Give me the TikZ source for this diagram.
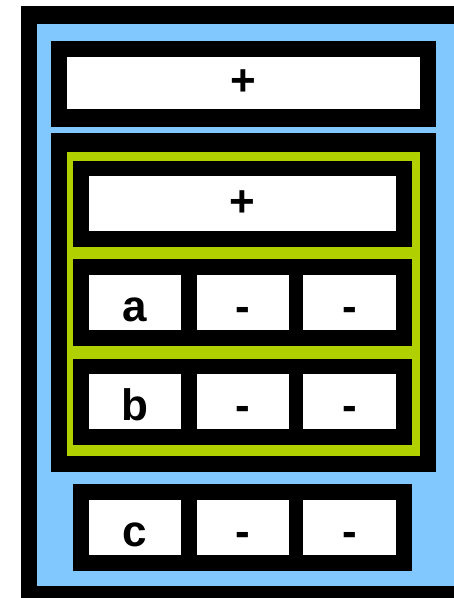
\documentclass[tikz,border=0pt]{standalone}
\usepackage{fontspec}
\setmainfont{Liberation Sans}
\definecolor{panelblue}{RGB}{128,200,255}
\definecolor{framegreen}{RGB}{176,208,0}

\begin{document}
\begin{tikzpicture}[x=1pt,y=-1pt,
    cell/.style={fill=white,inner sep=0pt,minimum height=55pt,minimum width=92pt,
      font=\fontsize{44}{48}\selectfont\bfseries},
    letter/.style={cell,text height=37pt,text depth=0pt}]
  \useasboundingbox (0,0) rectangle (454,598);
  \clip (0,0) rectangle (454,598);
  % outer frame, cut off at right and bottom
  \fill[black] (21,6) rectangle (480,620);
  \fill[panelblue] (37,24) rectangle (462,586);
  % top row
  \fill[black] (51,41) rectangle (436,127);
  \node[cell,minimum width=353pt,minimum height=52pt] (top) at (243.5,83) {+};
  % middle block with green group
  \fill[black] (51,133) rectangle (436,472);
  \fill[framegreen] (67,152) rectangle (420,456);
  \fill[black] (73,161) rectangle (412,247);
  \node[cell,minimum width=307pt] (inner) at (242.5,203.5) {+};
  \fill[black] (73,259) rectangle (412,346);
  \fill[black] (73,359) rectangle (412,445);
  % bottom row
  \fill[black] (73,484) rectangle (412,571);
  % the three lettered rows
  \foreach \nm/\y in {a/302.5,b/401.5,c/527.5} {
    \node[letter] (\nm1) at (135,\y) {\nm};
    \node[letter] (\nm2) at (243,\y) {-};
    \node[letter,minimum width=93pt] (\nm3) at (349.5,\y) {-};
  }
\end{tikzpicture}
\end{document}
